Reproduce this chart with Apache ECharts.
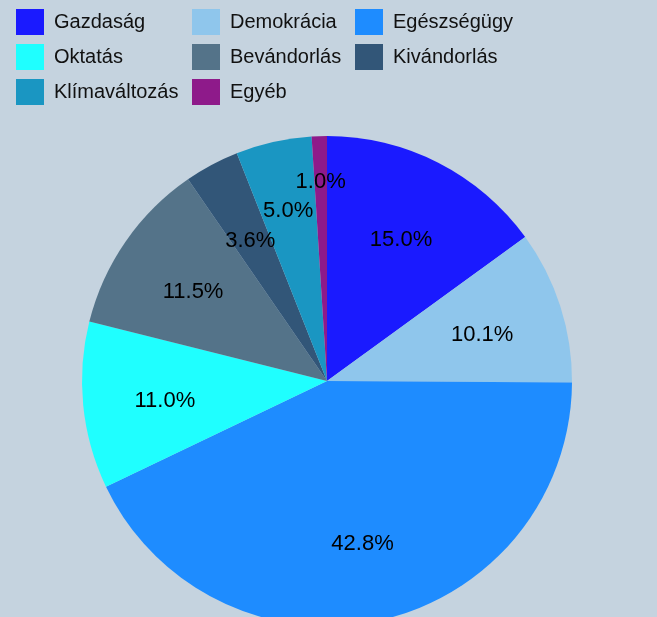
<!DOCTYPE html>
<html>
<head>
<meta charset="utf-8">
<script src="https://cdn.jsdelivr.net/npm/echarts@6/dist/echarts.min.js"></script>
<style>
html,body{margin:0;padding:0;background:#c5d3df;}
#main{width:657px;height:617px;}
</style>
</head>
<body>
<div id="main"></div>
<script>
var categories = ['Gazdaság','Demokrácia','Egészségügy','Oktatás','Bevándorlás','Kivándorlás','Klímaváltozás','Egyéb'];
var shares = [15.0, 10.1, 42.8, 11.0, 11.5, 3.6, 5.0, 1.0];
var colors = ['#1a1aff','#8fc6ec','#1e8cff','#1fffff','#547389','#325678','#1a96c2','#8e1a8a'];
// legend columns as laid out in the picture
var legendCols = [
    ['Gazdaság','Oktatás','Klímaváltozás'],
    ['Demokrácia','Bevándorlás','Egyéb'],
    ['Egészségügy','Kivándorlás']
];
var legendLeft = [16, 192, 355];

// small slices get their label pushed further out
var labelGroups = [
    {r0: 75,  items: ['Gazdaság','Demokrácia','Egészségügy','Oktatás','Bevándorlás','Kivándorlás']},
    {r0: 105, items: ['Klímaváltozás']},
    {r0: 155, items: ['Egyéb']}
];

var CX = 327, CY = 381, R = 245;

var chart = echarts.init(document.getElementById('main'));

var pieData = categories.map(function(name, i){
    return {name: name, value: shares[i], itemStyle: {color: colors[i]}};
});

var legends = legendCols.map(function(col, k){
    return {
        orient: 'vertical',
        left: legendLeft[k],
        top: 9,
        padding: 0,
        icon: 'rect',
        itemWidth: 28,
        itemHeight: 26,
        itemGap: 9,
        selectedMode: false,
        textStyle: {fontFamily: 'Liberation Sans, Arial', fontSize: 20, color: '#111', padding: [0,0,0,5]},
        data: col.map(function(n){
            return {name: n, itemStyle: {color: colors[categories.indexOf(n)]}};
        })
    };
});

var series = [{
    type: 'pie',
    center: [CX, CY],
    radius: R,
    startAngle: 90,
    clockwise: true,
    label: {show: false},
    labelLine: {show: false},
    itemStyle: {borderWidth: 0},
    emphasis: {disabled: true},
    data: pieData
}];

// transparent copies, only there to put the percent labels at the right distance
labelGroups.forEach(function(g){
    series.push({
        type: 'pie',
        center: [CX, CY],
        radius: [g.r0, R],
        startAngle: 90,
        clockwise: true,
        silent: true,
        avoidLabelOverlap: false,
        itemStyle: {color: 'rgba(0,0,0,0)', borderWidth: 0},
        label: {
            show: true,
            position: 'inside',
            formatter: function(p){ return '{p|' + p.value.toFixed(1) + '%}'; },
            rich: {
                p: {
                    fontFamily: 'Liberation Sans, Arial',
                    fontSize: 22,
                    color: '#000',
                    padding: [8, 0, 0, 0]
                }
            }
        },
        labelLine: {show: false},
        emphasis: {disabled: true},
        data: categories.map(function(name, i){
            return {name: name, value: shares[i], label: {show: g.items.indexOf(name) >= 0}};
        })
    });
});

chart.setOption({
    backgroundColor: '#c5d3df',
    animation: false,
    legend: legends,
    series: series
});
</script>
</body>
</html>
